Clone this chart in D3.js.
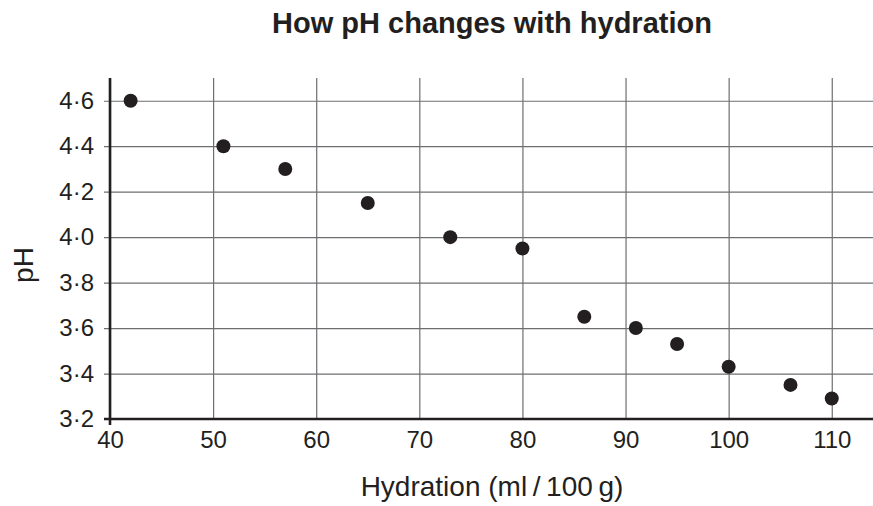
<!DOCTYPE html>
<html>
<head>
<meta charset="utf-8">
<script src="https://cdn.jsdelivr.net/npm/d3@7"></script>
<style>
  body { margin: 0; background: #fff; }
  svg { display: block; font-family: "Liberation Sans", Arial, sans-serif; }
</style>
</head>
<body>
<script>
// data
var hydration = [42, 51, 57, 65, 73, 80, 86, 91, 95, 100, 106, 110];
var phValues  = [4.6, 4.4, 4.3, 4.15, 4.0, 3.95, 3.65, 3.6, 3.53, 3.43, 3.35, 3.29];
var xTicks = [40, 50, 60, 70, 80, 90, 100, 110];
var yTicks = [3.2, 3.4, 3.6, 3.8, 4.0, 4.2, 4.4, 4.6];

var width = 873,
    height = 506,
    plotLeft = 110,
    plotRight = 873,
    plotTop = 78,
    plotBottom = 419,
    ink = "#231f20",
    grid = "#6d6e71";

var svg = d3.select("body").append("svg")
    .attr("width", width)
    .attr("height", height);

var x = d3.scaleLinear().domain([40, 114]).range([plotLeft, plotRight]);
var y = d3.scaleLinear().domain([3.2, 4.7]).range([plotBottom, plotTop]);

var fmt = function (d) { return d3.format(".1f")(d).replace(".", "\u00b7"); };

// horizontal grid + y labels
var yAxis = svg.append("g")
    .attr("transform", "translate(" + plotLeft + ",0)")
    .call(d3.axisLeft(y).tickValues(yTicks).tickSize(-(plotRight - plotLeft)).tickSizeOuter(0).tickPadding(16).tickFormat(fmt));
yAxis.select(".domain").remove();
yAxis.selectAll(".tick line").attr("x1", -6).attr("stroke", grid).attr("stroke-width", 1.2);
yAxis.selectAll(".tick text")
    .attr("fill", ink)
    .attr("font-size", "24px")
    .attr("font-family", "Liberation Sans, Arial, sans-serif");

// vertical grid + x labels
var xAxis = svg.append("g")
    .attr("transform", "translate(0," + plotBottom + ")")
    .call(d3.axisBottom(x).tickValues(xTicks).tickSize(-(plotBottom - plotTop)).tickSizeOuter(0).tickPadding(12).tickFormat(d3.format("d")));
xAxis.select(".domain").remove();
xAxis.selectAll(".tick line").attr("stroke", grid).attr("stroke-width", 1.2);
xAxis.selectAll(".tick text")
    .attr("fill", ink)
    .attr("font-size", "24px")
    .attr("font-family", "Liberation Sans, Arial, sans-serif");

// axis lines
svg.append("line")
    .attr("x1", plotLeft).attr("x2", plotLeft)
    .attr("y1", plotTop).attr("y2", plotBottom + 6)
    .attr("stroke", ink).attr("stroke-width", 2.6);
svg.append("line")
    .attr("x1", plotLeft - 6).attr("x2", plotRight)
    .attr("y1", plotBottom).attr("y2", plotBottom)
    .attr("stroke", ink).attr("stroke-width", 2.6);

// points
svg.append("g").selectAll("circle")
    .data(hydration)
    .enter()
    .append("circle")
    .attr("cx", function (d) { return x(d); })
    .attr("cy", function (d, i) { return y(phValues[i]); })
    .attr("r", 7)
    .attr("fill", ink);

// title and axis titles
svg.append("text")
    .attr("x", 492).attr("y", 33)
    .attr("text-anchor", "middle")
    .attr("font-size", "29px")
    .attr("font-weight", "bold")
    .attr("fill", ink)
    .text("How pH changes with hydration");

svg.append("text")
    .attr("x", 492).attr("y", 496)
    .attr("text-anchor", "middle")
    .attr("font-size", "28px")
    .attr("fill", ink)
    .text("Hydration (ml\u2009/\u2009100\u2009g)");

svg.append("text")
    .attr("transform", "translate(33,265) rotate(-90)")
    .attr("text-anchor", "middle")
    .attr("font-size", "28px")
    .attr("fill", ink)
    .text("pH");
</script>
</body>
</html>
